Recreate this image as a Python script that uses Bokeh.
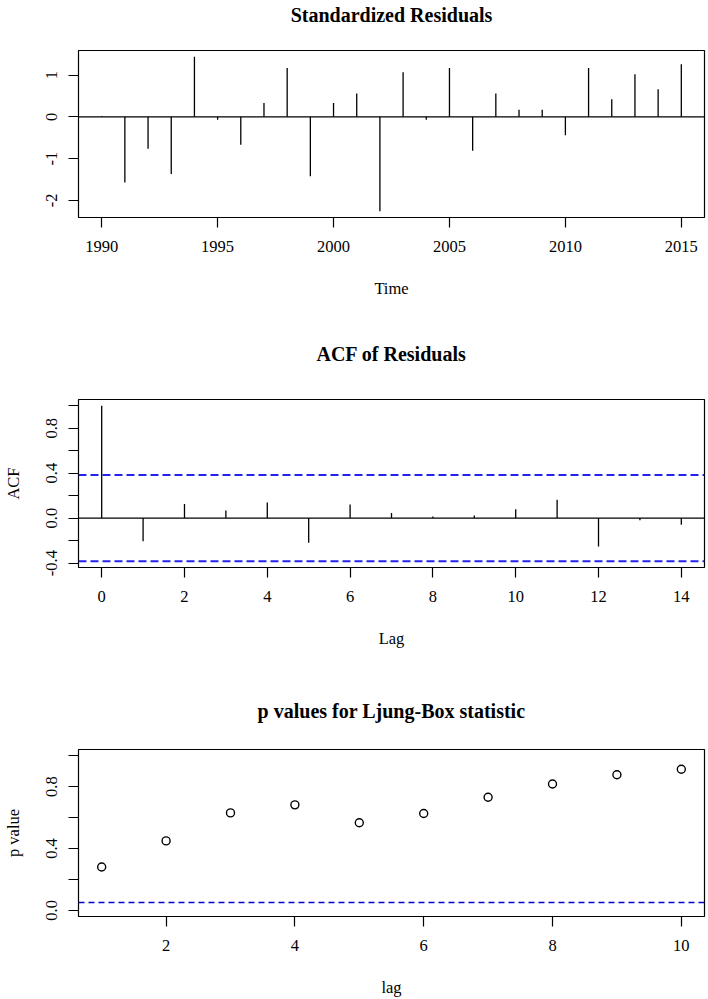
from bokeh.plotting import figure
from bokeh.models import Range1d, FixedTicker, Span, LinearAxis
from bokeh.layouts import column
from bokeh.embed import file_html
from bokeh.resources import INLINE

# ---- data ----
years = list(range(1990, 2016))
std_resid = [0.02, -1.57, -0.76, -1.37, 1.44, -0.07, -0.67, 0.33, 1.17, -1.42,
             0.33, 0.56, -2.26, 1.07, -0.07, 1.17, -0.81, 0.56, 0.17, 0.17,
             -0.44, 1.17, 0.42, 1.02, 0.66, 1.26]
acf_lags = list(range(0, 15))
acf_vals = [1.0, -0.205, 0.125, 0.068, 0.14, -0.22, 0.122, 0.045, 0.015, 0.024,
            0.08, 0.164, -0.253, -0.02, -0.06]
acf_ci = 0.384
lb_lags = list(range(1, 11))
lb_pvals = [0.28, 0.449, 0.63, 0.682, 0.566, 0.626, 0.731, 0.817, 0.877, 0.912]
lb_level = 0.05

resid_xticks = [1990, 1995, 2000, 2005, 2010, 2015]
resid_yticks = [-2, -1, 0, 1]
resid_ylabels = {-2: "-2", -1: "-1", 0: "0", 1: "1"}
acf_xticks = [0, 2, 4, 6, 8, 10, 12, 14]
acf_yticks = [-0.4, -0.2, 0.0, 0.2, 0.4, 0.6, 0.8, 1.0]
acf_ylabels = {-0.4: "-0.4", -0.2: "", 0.0: "0.0", 0.2: "", 0.4: "0.4", 0.6: "", 0.8: "0.8", 1.0: ""}
lb_xticks = [2, 4, 6, 8, 10]
lb_yticks = [0.0, 0.2, 0.4, 0.6, 0.8, 1.0]
lb_ylabels = {0.0: "0.0", 0.2: "", 0.4: "0.4", 0.6: "", 0.8: "0.8", 1.0: ""}

FONT = "Liberation Serif"
TICK_SIZE = "16.5px"
TITLE_SIZE = "20px"
W = 708
LEFT = 77
RIGHT = 4


def rng(lo, hi):
    d = (hi - lo) * 0.04
    return Range1d(lo - d, hi + d)


def make_fig(height, top, bottom, xr, yr):
    p = figure(width=W, height=height, x_range=xr, y_range=yr,
               output_backend="svg", toolbar_location=None,
               min_border_left=LEFT, min_border_right=RIGHT,
               min_border_top=top, min_border_bottom=bottom)
    p.title = None
    p.xgrid.visible = False
    p.ygrid.visible = False
    p.outline_line_color = "black"
    p.outline_line_width = 1.2
    p.background_fill_color = "white"
    p.border_fill_color = "white"
    return p


def style(p, title, title_standoff, xlabel, ylabel, xticks, yticks, ylabels=None):
    xax = p.below[0]
    yax = p.left[0]
    for ax in (xax, yax):
        ax.axis_line_color = None
        ax.major_tick_in = 0
        ax.major_tick_out = 10
        ax.major_tick_line_color = "black"
        ax.major_tick_line_width = 1.2
        ax.minor_tick_line_color = None
        ax.major_label_text_font = FONT
        ax.major_label_text_font_size = TICK_SIZE
        ax.major_label_text_color = "black"
        ax.axis_label_text_font = FONT
        ax.axis_label_text_font_size = TICK_SIZE
        ax.axis_label_text_font_style = "normal"
        ax.axis_label_text_color = "black"
    xax.ticker = FixedTicker(ticks=xticks)
    yax.ticker = FixedTicker(ticks=yticks)
    xax.major_label_standoff = 13
    yax.major_label_orientation = "vertical"
    yax.major_label_standoff = 11
    if ylabels:
        yax.major_label_overrides = ylabels
    xax.axis_label = xlabel
    xax.axis_label_standoff = 24
    if ylabel:
        yax.axis_label = ylabel
        yax.axis_label_standoff = 21
    # title drawn as the label of an empty axis above the frame
    tax = LinearAxis(ticker=FixedTicker(ticks=[]), axis_label=title,
                     axis_line_color=None, major_tick_line_color=None,
                     minor_tick_line_color=None, major_tick_out=0,
                     major_tick_in=0, major_label_standoff=0,
                     axis_label_standoff=title_standoff,
                     axis_label_text_font=FONT,
                     axis_label_text_font_size=TITLE_SIZE,
                     axis_label_text_font_style="bold",
                     axis_label_text_color="black")
    p.add_layout(tax, "above")


# ---- panel 1: standardized residuals ----
p1 = make_fig(333, 49, 116, Range1d(1989, 2016),
              rng(min(std_resid), max(std_resid)))
p1.segment(x0=years, y0=[0] * len(years), x1=years, y1=std_resid,
           line_color="black", line_width=1.3)
p1.add_layout(Span(location=0, dimension="width", line_color="black", line_width=1.3))
style(p1, "Standardized Residuals", 25, "Time", None, resid_xticks, resid_yticks,
      resid_ylabels)

# ---- panel 2: ACF ----
p2 = make_fig(333, 66, 99, rng(min(acf_lags), max(acf_lags)),
              rng(min(min(acf_vals), -acf_ci), max(max(acf_vals), acf_ci)))
p2.segment(x0=acf_lags, y0=[0] * len(acf_lags), x1=acf_lags, y1=acf_vals,
           line_color="black", line_width=1.3)
p2.add_layout(Span(location=0, dimension="width", line_color="black", line_width=1.3))
for c in (acf_ci, -acf_ci):
    p2.add_layout(Span(location=c, dimension="width", line_color="#2222ee",
                       line_width=2, line_dash="8 4"))
style(p2, "ACF of Residuals", 35, "Lag", "ACF", acf_xticks, acf_yticks, acf_ylabels)

# ---- panel 3: Ljung-Box p values ----
p3 = make_fig(333, 83, 82, rng(min(lb_lags), max(lb_lags)), rng(0, 1))
p3.scatter(lb_lags, lb_pvals, marker="circle", size=8, fill_color=None,
           line_color="black", line_width=1.4)
p3.add_layout(Span(location=lb_level, dimension="width", line_color="#0000cc",
                   line_width=1.5, line_dash="6 4"))
style(p3, "p values for Ljung-Box statistic", 28, "lag", "p value",
      lb_xticks, lb_yticks, lb_ylabels)

layout = column(p1, p2, p3, spacing=0)
open("out.html", "w").write(file_html(layout, INLINE))
